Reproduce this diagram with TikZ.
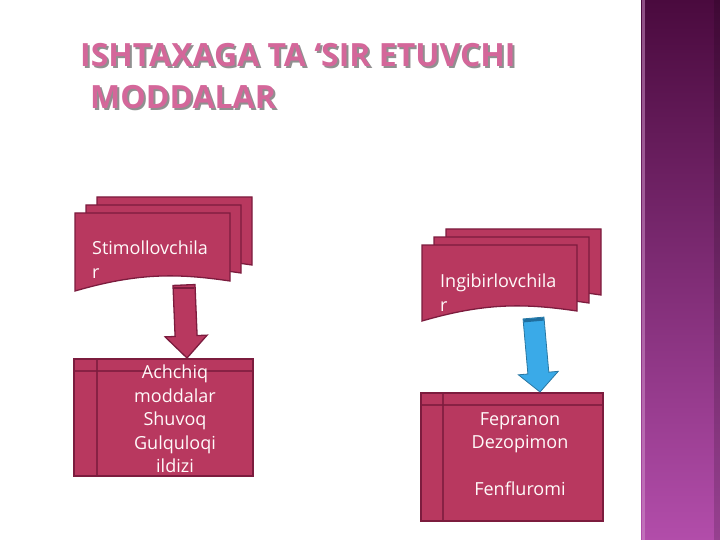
\documentclass[tikz,border=0pt]{standalone}
\usepackage{fontspec}
\setmainfont{Open Sans}
\usetikzlibrary{calc}

\definecolor{docred}{HTML}{B8385F}
\definecolor{docedge}{HTML}{7C1C3E}
\definecolor{titlepink}{HTML}{D4679A}
\definecolor{titleshade}{HTML}{909090}
\definecolor{bandtop}{HTML}{4A0A3E}
\definecolor{bandbot}{HTML}{B24DAA}
\definecolor{arrowblue}{HTML}{3AAAE8}
\definecolor{arrowbluedark}{HTML}{1F6E9E}

\tikzset{
  docpart/.style={fill=docred, draw=docedge, line width=1.3pt},
  storebox/.style={fill=docred, draw=docedge, line width=1.8pt, inner sep=0},
  innerline/.style={draw=docedge, line width=2pt, opacity=.8},
  boxtext/.style={text=white!92!pink, font=\fontsize{18}{23.5}\selectfont, inner sep=0},
  titletext/.style={font=\fontsize{32}{38}\selectfont\bfseries, inner sep=0, anchor=west},
}

% document shape: top left corner, width, height
\newcommand{\docpath}[4][docpart]{%
  \draw[#1] (#2) -- ++(#3,0) -- ++(0,#4-14)
    .. controls ++(-#3*0.35,-8) and ++(#3*0.4,-18) .. ++(-#3,10) -- cycle;}

% block arrow from a start point to a tip
\newcommand{\blockarrow}[6]{%
  \coordinate (neck) at ($(#3)!#6!(#2)$);
  \draw[#1] ($(#2)!#4!90:(#3)$) -- ($(neck)!#4!-90:(#2)$) -- ($(neck)!#5!-90:(#2)$)
    -- (#3) -- ($(neck)!#5!90:(#2)$) -- ($(neck)!#4!90:(#2)$) -- ($(#2)!#4!-90:(#3)$) -- cycle;}

\begin{document}
\begin{tikzpicture}[x=1pt, y=-1pt]
\useasboundingbox (0,0) rectangle (720,540);

% oikea reuna
\shade[top color=bandtop, bottom color=bandbot] (641,0) rectangle (720,540);
\fill[bandbot!60!white, opacity=.5] (642,0) rectangle (645,540);
\fill[black, opacity=.15] (714,0) rectangle (720,540);

% otsikko
\node[titletext, text=titleshade] (title1s) at (82,57) {ISHTAXAGA TA {\char"0060}SIR ETUVCHI};
\node[titletext, text=titlepink] (title1) at (80,55) {ISHTAXAGA TA {\char"0060}SIR ETUVCHI};
\node[titletext, text=titleshade] (title2s) at (92,99) {MODDALAR};
\node[titletext, text=titlepink] (title2) at (90,97) {MODDALAR};

% hujjatlar (chap)
\foreach \s in {2,1,0}
  \docpath{$(75,213)+(\s*11,-\s*8)$}{155}{82}
\node[boxtext, anchor=north west, align=left] (stim) at (92,241) {Stimollovchila\\r};

% hujjatlar (o'ng)
\foreach \s in {2,1,0}
  \docpath{$(422,245)+(\s*12,-\s*8)$}{155}{80}
\node[boxtext, anchor=north west, align=left] (ingib) at (440,274) {Ingibirlovchila\\r};

% pastki qutilar
\node[storebox, minimum width=179, minimum height=117, anchor=north west] (acid) at (73,358) {};
\draw[innerline] ($(acid.north west)+(24,0)$) -- ($(acid.south west)+(24,0)$);
\draw[innerline] ($(acid.north west)+(0,13)$) -- ($(acid.north east)+(0,13)$);
\begin{scope}
  \clip ($(acid.north west)+(1,1)$) rectangle ($(acid.south east)+(-1,-1)$);
  \node[boxtext, align=center, anchor=north] (acidtext) at (175,365) {Achchiq\\moddalar\\Shuvoq\\Gulquloqi\\ildizi};
\end{scope}

\node[storebox, minimum width=182, minimum height=128, anchor=north west] (fepr) at (420,392) {};
\draw[innerline] ($(fepr.north west)+(23,0)$) -- ($(fepr.north west)+(23,128)$);
\draw[innerline] ($(fepr.north west)+(0,13)$) -- ($(fepr.north east)+(0,13)$);
\node[boxtext, align=center, anchor=north] (feprtext) at (520,412) {Fepranon\\Dezopimon\\[23pt]Fenfluromi};

% strelkalar
\coordinate (lsrc) at (184,285);
\coordinate (ltip) at ($(acid.north west)+(114,0)$);
\blockarrow{docpart}{lsrc}{ltip}{11pt}{21pt}{22pt}
\draw[docedge, line width=2pt] ($(lsrc)+(-10,3)$) -- ($(lsrc)+(10,3)$);

\coordinate (rsrc) at (533.5,318);
\coordinate (rtip) at ($(fepr.north west)+(120,0)$);
\blockarrow{fill=arrowblue, draw=arrowblue!70!black, line width=.8pt}{rsrc}{rtip}{10.5pt}{20pt}{19pt}
\draw[arrowbluedark, line width=3pt] ($($(rsrc)!2pt!(rtip)$)!10pt!90:(rtip)$) -- ($($(rsrc)!2pt!(rtip)$)!10pt!-90:(rtip)$);

\end{tikzpicture}
\end{document}
